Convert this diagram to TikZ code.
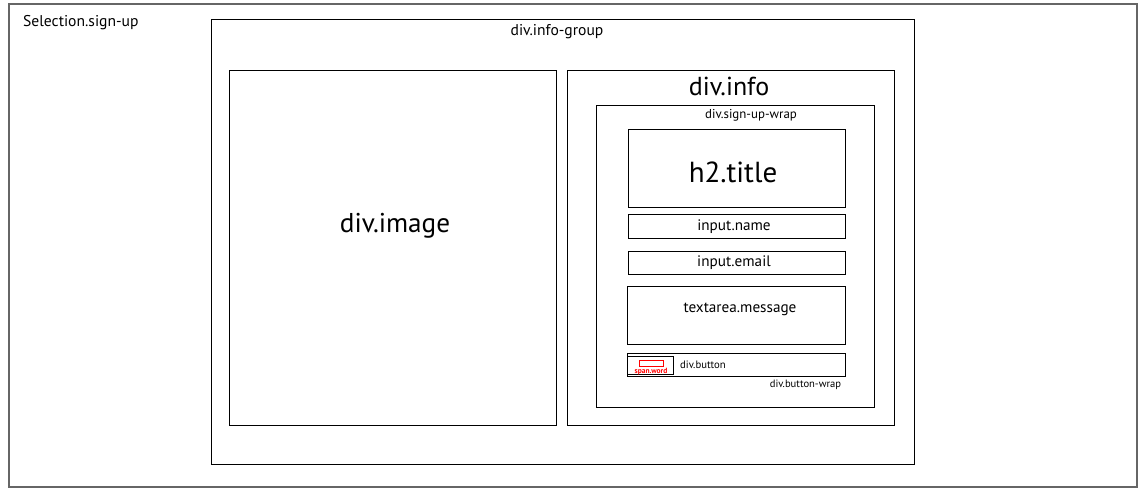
\documentclass[tikz,border=0pt]{standalone}
\usepackage{fontspec}
\setmainfont{PT Sans}
\usetikzlibrary{fit}
\begin{document}
\begin{tikzpicture}[x=1pt,y=-1pt,
  box/.style={draw=black,line width=0.9pt,inner sep=0pt,fit={#1}},
  lbl/.style={inner sep=0pt,font=\fontsize{#1}{#1}\selectfont},
  redbox/.style={draw=red,line width=0.8pt,inner sep=0pt,fit={#1}}]
\useasboundingbox (0,0) rectangle (1146,491);
\fill[white] (0,0) rectangle (1146,491);
% outer
\node[box={(9,4) (1137,487)},draw=black!60,line width=1.2pt] (outer) {};
\node[lbl=15.6,anchor=west] (outerlbl) at (23,23) {Selection.sign-up};
% info-group
\node[box={(211,19) (914,464)}] (group) {};
\node[lbl=15.6] (grouplbl) at (557,32) {div.info-group};
% image
\node[box={(229,70) (556,425)}] (image) {};
\node[lbl=27.2] (imagelbl) at (395,226) {div.image};
% info
\node[box={(567,70) (894,425)}] (info) {};
\node[lbl=26] (infolbl) at (729,86) {div.info};
% sign-up-wrap
\node[box={(596,105) (874,407)}] (wrap) {};
\node[lbl=12.9] (wraplbl) at (751,115.5) {div.sign-up-wrap};
% title
\node[box={(628,129) (845,207)}] (title) {};
\node[lbl=29] (titlelbl) at (733,172) {h2.title};
% name
\node[box={(628,214) (845,238)}] (name) {};
\node[lbl=15.2] (namelbl) at (734,227) {input.name};
% email
\node[box={(628,251) (845,274)}] (email) {};
\node[lbl=15.2] (emaillbl) at (734,263) {input.email};
% textarea
\node[box={(627,286) (845,344)}] (msg) {};
\node[lbl=15.2] (msglbl) at (740,309) {textarea.message};
% button wrap
\node[box={(627,353) (845,376)}] (bwrap) {};
\node[box={(627,356) (673,374)}] (button) {};
\node[redbox={(639,360.5) (663,366.5)}] (span) {};
\node[lbl=7.5,text=red,font=\bfseries\fontsize{7.5}{7.5}\selectfont] (spanlbl) at (651,371.5) {span.word};
\node[lbl=10.7,anchor=west] (buttonlbl) at (680,364.5) {div.button};
\node[lbl=10.6] (bwraplbl) at (805.5,385) {div.button-wrap};
\end{tikzpicture}
\end{document}
